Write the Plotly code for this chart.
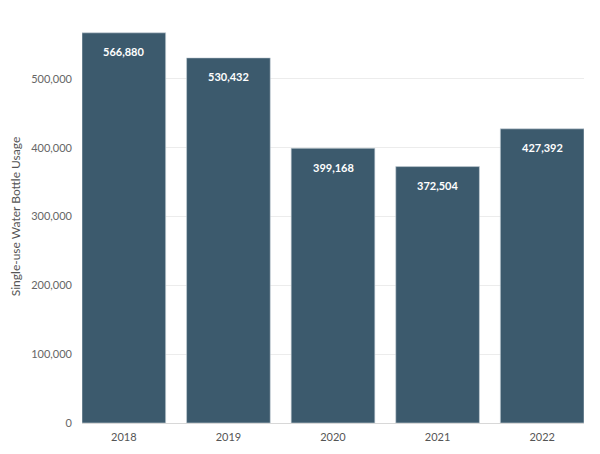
import plotly.graph_objects as go

years = ["2018", "2019", "2020", "2021", "2022"]
usage = [566880, 530432, 399168, 372504, 427392]
labels = [f"{v:,}" for v in usage]
y_ticks = [0, 100000, 200000, 300000, 400000, 500000]
y_ticklabels = [f"{v:,}" for v in y_ticks]

fig = go.Figure()
fig.add_trace(go.Bar(
    x=years, y=usage,
    marker=dict(color="#3c5a6d", line=dict(color="#c9d3da", width=0.6)),
    hoverinfo="x+y",
))

for i, (v, lab) in enumerate(zip(usage, labels)):
    fig.add_annotation(x=i, y=v, xref="x", yref="y", text=f"<b>{lab}</b>", showarrow=False,
                       yshift=-19, font=dict(color="white", size=11, family="Lato"))

fig.update_layout(
    width=600, height=454,
    margin=dict(l=74, r=24, t=2, b=39),
    plot_bgcolor="white", paper_bgcolor="white",
    bargap=0.2,
    showlegend=False,
    font=dict(family="Lato", color="#666666", size=11),
    xaxis=dict(
        type="category",
        range=[-0.4, 4.4], showgrid=False, zeroline=False,
        showline=True, linecolor="#d8d8d8", linewidth=1,
        tickfont=dict(size=11, color="#555555"),
        ticklabelstandoff=4,
    ),
    yaxis=dict(
        range=[0, 600000], tickvals=y_ticks, ticktext=y_ticklabels,
        showgrid=True, gridcolor="#ececec", gridwidth=1, zeroline=False,
        tickfont=dict(size=11, color="#666666"),
        ticklabelstandoff=9,
        title=dict(text="Single-use Water Bottle Usage", font=dict(size=12, color="#555555"), standoff=9),
    ),
)

fig.write_html("out.html")
